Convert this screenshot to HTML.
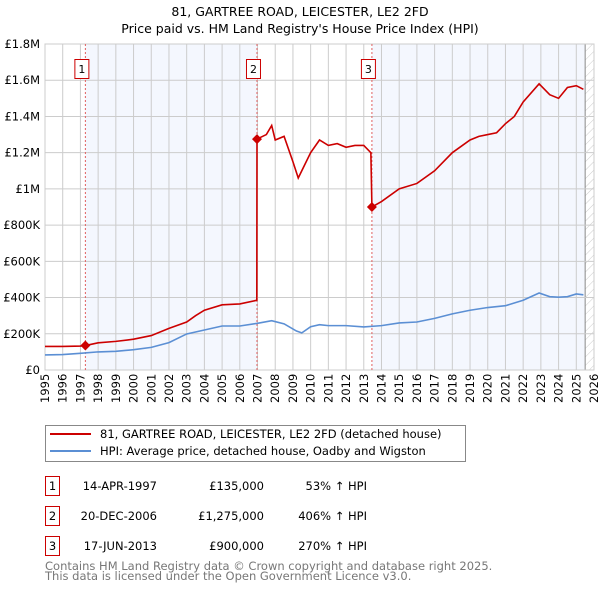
<!DOCTYPE html>
<html><head><meta charset="utf-8"><style>
body{margin:0;background:#fff;font-family:"Liberation Sans","DejaVu Sans",sans-serif;}
svg text{font-family:"DejaVu Sans","Liberation Sans",sans-serif;}
</style></head><body>
<svg id="c" width="600" height="590" xmlns="http://www.w3.org/2000/svg">
<defs><pattern id="hatch" width="6" height="6" patternUnits="userSpaceOnUse" patternTransform="rotate(45)"><line x1="0" y1="0" x2="0" y2="6" stroke="#ccc" stroke-width="1"/></pattern></defs>
<text x="300" y="16" text-anchor="middle" font-size="12.5">81, GARTREE ROAD, LEICESTER, LE2 2FD</text>
<text x="300" y="33" text-anchor="middle" font-size="12.5">Price paid vs. HM Land Registry's House Price Index (HPI)</text>
<g id="plot"></g>
<g>
<rect x="45.5" y="425.5" width="420" height="36" fill="#fff" stroke="#888"/>
<line x1="50" y1="434" x2="91" y2="434" stroke="#cc0000" stroke-width="2"/>
<text x="100" y="438" font-size="11.5">81, GARTREE ROAD, LEICESTER, LE2 2FD (detached house)</text>
<line x1="50" y1="451" x2="91" y2="451" stroke="#5b8fd4" stroke-width="2"/>
<text x="100" y="455" font-size="11.5">HPI: Average price, detached house, Oadby and Wigston</text>
</g>
<g font-size="11.5">
<rect x="45.5" y="476.5" width="14" height="19" fill="#fff" stroke="#cc0000"/><text x="52.5" y="490" text-anchor="middle">1</text>
<text x="157" y="490" text-anchor="end">14-APR-1997</text><text x="264" y="490" text-anchor="end">£135,000</text><text x="367" y="490" text-anchor="end">53% ↑ HPI</text>
<rect x="45.5" y="506.5" width="14" height="19" fill="#fff" stroke="#cc0000"/><text x="52.5" y="520" text-anchor="middle">2</text>
<text x="157" y="520" text-anchor="end">20-DEC-2006</text><text x="264" y="520" text-anchor="end">£1,275,000</text><text x="367" y="520" text-anchor="end">406% ↑ HPI</text>
<rect x="45.5" y="536.5" width="14" height="19" fill="#fff" stroke="#cc0000"/><text x="52.5" y="550" text-anchor="middle">3</text>
<text x="157" y="550" text-anchor="end">17-JUN-2013</text><text x="264" y="550" text-anchor="end">£900,000</text><text x="367" y="550" text-anchor="end">270% ↑ HPI</text>
</g>
<text x="45" y="570" font-size="11.5" fill="#777">Contains HM Land Registry data © Crown copyright and database right 2025.</text>
<text x="45" y="580" font-size="11.5" fill="#777">This data is licensed under the Open Government Licence v3.0.</text>
</svg>
<script>
const hpiYears=[1995,1996,1997,1998,1999,2000,2001,2002,2003,2004,2005,2006,2007,2007.8,2008.5,2009.2,2009.5,2010,2010.5,2011,2012,2013,2014,2015,2016,2017,2018,2019,2020,2021,2022,2022.9,2023.5,2024,2024.5,2025,2025.4];
const hpiValues=[83000,85000,92000,100000,103000,112000,125000,151000,199000,221000,243000,243000,258000,272000,255000,215000,205000,239000,250000,245000,245000,238000,245000,260000,265000,285000,310000,330000,345000,355000,385000,425000,405000,402000,405000,420000,415000];
const redYears=[1995,1996,1997,1997.28,1998,1999,2000,2001,2002,2003,2003.5,2004,2005,2006,2006.96,2006.97,2007.5,2007.8,2008,2008.5,2009,2009.3,2009.6,2010,2010.5,2011,2011.5,2012,2012.5,2013,2013.4,2013.46,2014,2015,2016,2017,2018,2019,2019.5,2020,2020.5,2021,2021.5,2022,2022.9,2023.5,2024,2024.5,2025,2025.4];
const redValues=[130000,130000,132000,135000,150000,158000,170000,190000,230000,265000,300000,330000,360000,365000,385000,1275000,1300000,1350000,1270000,1290000,1150000,1060000,1120000,1200000,1270000,1240000,1250000,1230000,1240000,1240000,1200000,900000,930000,1000000,1030000,1100000,1200000,1270000,1290000,1300000,1310000,1360000,1400000,1480000,1580000,1520000,1500000,1560000,1570000,1550000];
const saleYears=[1997.28,2006.97,2013.46];
const salePrices=[135000,1275000,900000];
const yTicks=[0,200000,400000,600000,800000,1000000,1200000,1400000,1600000,1800000];
const yLabels=["£0","£200K","£400K","£600K","£800K","£1M","£1.2M","£1.4M","£1.6M","£1.8M"];
const X0=45,X1=594,Y0=370,Y1=44;
const xs=y=>X0+(y-1995)/(2026-1995)*(X1-X0);
const ys=v=>Y0-v/1800000*(Y0-Y1);
const NS="http://www.w3.org/2000/svg";
const g=document.getElementById('plot');
function mk(t,a,p){const e=document.createElementNS(NS,t);for(const k in a)e.setAttribute(k,a[k]);(p||g).appendChild(e);return e;}
const bg=mk('rect',{x:X0,y:Y1,width:X1-X0,height:Y0-Y1,fill:'#fff'});


const s1=mk('rect',{x:xs(saleYears[0]),y:Y1,width:xs(saleYears[1])-xs(saleYears[0]),height:Y0-Y1,fill:'#f4f7fe'});


const s2=mk('rect',{x:xs(saleYears[2]),y:Y1,width:xs(2025.5)-xs(saleYears[2]),height:Y0-Y1,fill:'#f4f7fe'});


const ht=mk('rect',{x:xs(2025.5),y:Y1,width:X1-xs(2025.5),height:Y0-Y1,fill:'url(#hatch)'});


mk('line',{x1:xs(2025.5),y1:Y1,x2:xs(2025.5),y2:Y0,stroke:'#888'});
for(let yr=1995;yr<=2026;yr++){
 const x=xs(yr);
 mk('line',{x1:x,y1:Y1,x2:x,y2:Y0,stroke:'#ccc'});
 const t=mk('text',{x:0,y:0,'font-size':11.5,transform:`translate(${x+4},${Y0+33}) rotate(-90)`});
 t.textContent=yr;
 
 
}
yTicks.forEach((v,i)=>{
 mk('line',{x1:X0,y1:ys(v),x2:X1,y2:ys(v),stroke:'#ccc'});
 const t=mk('text',{x:X0-5,y:ys(v)+4,'font-size':11.5,'text-anchor':'end'});
 t.textContent=yLabels[i];
 
 
});
mk('rect',{x:X0,y:Y1,width:X1-X0,height:Y0-Y1,fill:'none',stroke:'#ccc'});
saleYears.forEach((yr,i)=>{
 mk('line',{x1:xs(yr),y1:Y1,x2:xs(yr),y2:Y0,stroke:'#e06060','stroke-dasharray':'2,2'});
 const r=mk('rect',{x:xs(yr)-10.5,y:59.5,width:14,height:19,fill:'#fff',stroke:'#cc0000'});
 
 
 const t=mk('text',{x:xs(yr)-3.5,y:73,'font-size':11,'text-anchor':'middle'});
 t.textContent=i+1;
});
const hp=mk('polyline',{points:hpiYears.map((y,i)=>xs(y)+','+ys(hpiValues[i])).join(' '),fill:'none',stroke:'#5b8fd4','stroke-width':1.6});


const rp=mk('polyline',{points:redYears.map((y,i)=>xs(y)+','+ys(redValues[i])).join(' '),fill:'none',stroke:'#cc0000','stroke-width':1.6});


saleYears.forEach((yr,i)=>{
 const x=xs(yr),y=ys(salePrices[i]);
 const d=mk('polygon',{points:`${x},${y-5} ${x+5},${y} ${x},${y+5} ${x-5},${y}`,fill:'#cc0000'});
 
 
});
</script>
</body></html>
